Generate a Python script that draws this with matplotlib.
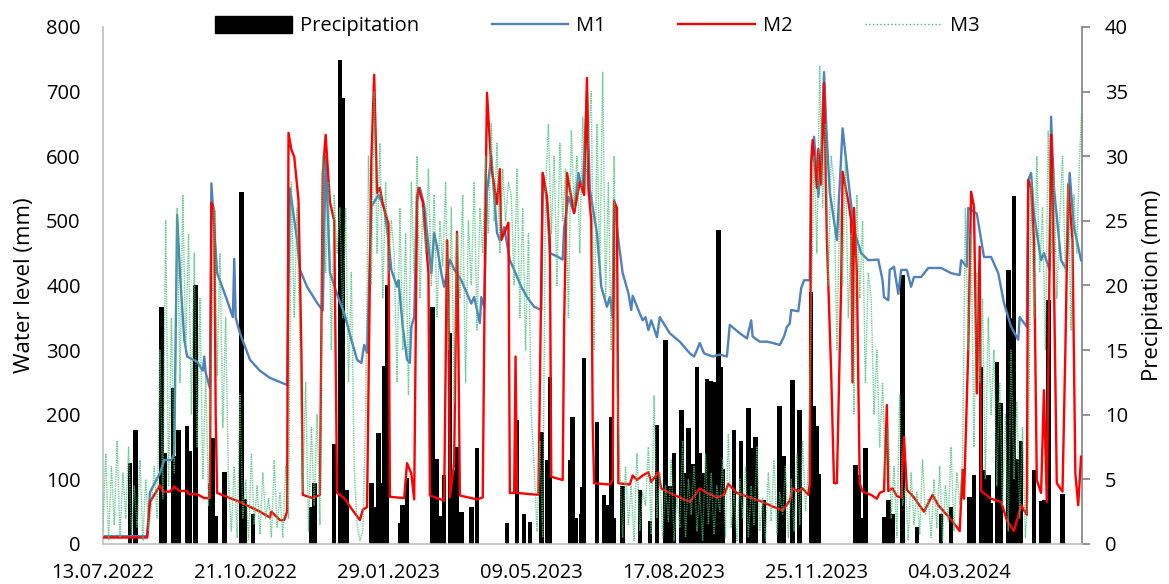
import numpy as np
import matplotlib
matplotlib.use('Agg')
import matplotlib.pyplot as plt
import matplotlib.dates as mdates
from matplotlib.patches import Patch
from matplotlib.lines import Line2D
from datetime import datetime, timedelta

plt.rcParams['font.family'] = ['Open Sans', 'DejaVu Sans']

START = datetime(2022, 7, 13)
N_DAYS = 686

# --- precipitation events: day offset from start, mm ---
precip_day = [19, 23, 41, 43, 49, 51, 53, 59, 61, 65, 75, 77, 79, 85, 97, 99, 105,
              146, 148, 162, 166, 168, 171, 188, 190, 193, 195, 197, 199, 208, 210, 213,
              231, 234, 237, 239, 243, 245, 248, 251, 258, 262, 283, 290, 295, 299,
              307, 311, 313, 327, 329, 331, 335, 336, 337, 346, 351, 353, 356, 358,
              364, 376, 383, 388, 394, 397, 400, 405, 407, 410, 413, 416, 418, 420,
              423, 426, 428, 431, 433, 434, 442, 447, 452, 455, 457, 463, 474, 477,
              483, 488, 496, 498, 500, 501, 527, 529, 532, 534, 547, 550, 553, 560,
              570, 587, 594, 607, 610, 615, 617, 620, 622, 626, 629, 634, 636, 638,
              640, 643, 652, 657, 659, 662, 672]
precip_mm = [6.3, 8.8, 18.3, 7.0, 12.1, 6.8, 8.8, 9.1, 7.2, 20.0, 4.7, 8.2, 2.2, 5.6, 27.2, 3.5, 2.3,
             2.9, 4.7, 7.7, 37.4, 34.5, 4.2, 4.7, 2.9, 8.6, 4.7, 13.8, 20.0, 1.6, 3.0, 5.1,
             18.3, 6.6, 2.2, 5.3, 16.3, 5.7, 7.5, 2.5, 2.9, 7.4, 1.6, 9.6, 2.3, 1.7,
             8.7, 6.5, 12.9, 6.5, 9.8, 2.0, 2.3, 4.4, 14.4, 9.4, 3.8, 3.0, 9.8, 2.0,
             4.5, 4.2, 1.8, 9.2, 15.8, 4.5, 7.0, 10.4, 5.5, 9.0, 6.2, 13.7, 7.0, 5.5,
             12.8, 12.6, 12.5, 24.3, 13.7, 5.8, 8.8, 8.0, 10.5, 7.4, 8.3, 3.4, 10.7, 6.8,
             12.7, 10.4, 19.5, 10.7, 9.1, 5.4, 6.1, 5.3, 2.0, 7.4, 2.1, 3.4, 2.3, 20.8,
             1.3, 2.3, 2.9, 3.6, 5.3, 13.7, 5.7, 5.3, 3.2, 14.1, 10.9, 21.2, 17.5, 26.9,
             6.6, 8.0, 5.7, 3.3, 3.4, 18.9, 3.9]

# --- M1 water level (mm) ---
m1_day = [0, 31, 33, 40, 43, 48, 50, 52, 54, 57, 59, 66, 70, 71, 72, 75, 76, 80, 87, 91,
          92, 93, 96, 103, 110, 117, 129, 131, 136, 138, 143, 150, 154, 156, 159, 165,
          169, 174, 178, 181, 183, 185, 188, 193, 197, 200, 202, 206, 207, 210, 213, 215,
          216, 218, 220, 222, 225, 230, 232, 234, 237, 239, 243, 246, 251, 256, 258, 260,
          264, 265, 267, 269, 272, 276, 278, 281, 285, 288, 293, 297, 302, 307, 308, 311,
          313, 318, 322, 323, 326, 330, 333, 336, 339, 341, 346, 349, 353, 355, 357, 358,
          361, 364, 368, 370, 371, 375, 378, 380, 382, 384, 388, 390, 397, 404, 411, 414,
          416, 418, 421, 427, 432, 437, 439, 446, 451, 454, 455, 460, 465, 469, 474, 477,
          479, 481, 482, 487, 489, 491, 495, 496, 498, 501, 503, 505, 507, 509, 514, 518,
          522, 526, 531, 536, 543, 546, 547, 550, 551, 554, 557, 559, 563, 566, 568, 573,
          578, 587, 594, 600, 601, 605, 606, 612, 617, 622, 627, 631, 636, 641, 642, 647,
          648, 650, 652, 657, 659, 663, 664, 666, 671, 675, 677, 680, 685]
m1_mm = [12, 12, 80, 110, 130, 130, 140, 509, 419, 316, 290, 282, 268, 290, 265, 241, 558, 419, 377, 351,
         441, 350, 326, 285, 268, 257, 246, 550, 470, 424, 398, 373, 361, 600, 420, 380,
         357, 316, 285, 280, 308, 296, 522, 540, 520, 470, 424, 398, 408, 336, 285, 280,
         336, 351, 530, 551, 524, 419, 481, 460, 419, 398, 440, 425, 408, 382, 372, 382,
         342, 382, 367, 545, 600, 481, 470, 490, 439, 424, 398, 382, 367, 362, 574, 530,
         450, 445, 440, 490, 537, 512, 574, 545, 700, 548, 481, 398, 367, 382, 351, 532,
         470, 419, 388, 362, 384, 362, 346, 351, 331, 346, 320, 351, 326, 313, 295, 290,
         300, 311, 295, 290, 293, 290, 339, 326, 318, 346, 321, 313, 313, 311, 308, 321,
         336, 341, 362, 360, 396, 408, 408, 590, 630, 537, 600, 730, 626, 545, 470, 643,
         563, 485, 450, 439, 440, 408, 382, 377, 424, 429, 387, 424, 424, 398, 413, 413,
         427, 427, 419, 416, 439, 429, 520, 511, 444, 444, 419, 373, 336, 316, 351, 336,
         563, 574, 510, 439, 450, 424, 661, 551, 439, 424, 574, 490, 439]

# --- M2 water level (mm) ---
m2_day = [0, 31, 33, 39, 40, 42, 47, 50, 52, 54, 59, 60, 66, 71, 75, 76, 78, 79, 80, 96,
          110, 117, 118, 124, 127, 129, 130, 132, 134, 137, 139, 140, 147, 152, 154, 156,
          159, 162, 164, 169, 174, 180, 182, 185, 188, 190, 192, 194, 196, 200, 201, 211,
          213, 216, 218, 220, 221, 224, 228, 229, 239, 241, 242, 243, 246, 248, 249, 250,
          262, 266, 268, 269, 272, 276, 278, 279, 284, 285, 288, 289, 290, 305, 308, 311,
          313, 314, 322, 323, 325, 330, 334, 337, 339, 340, 342, 343, 344, 355, 357, 358,
          360, 361, 369, 371, 374, 378, 382, 384, 389, 391, 397, 404, 411, 418, 423, 430,
          435, 438, 444, 453, 462, 469, 476, 481, 483, 487, 490, 494, 495, 496, 497, 500,
          501, 503, 505, 507, 510, 512, 514, 517, 518, 522, 524, 525, 526, 528, 530, 532,
          538, 542, 544, 547, 549, 550, 553, 556, 559, 561, 563, 568, 575, 581, 585, 589,
          595, 600, 602, 603, 606, 608, 610, 612, 614, 615, 622, 629, 633, 638, 643, 647,
          648, 650, 652, 654, 657, 659, 661, 664, 665, 668, 672, 674, 676, 679, 681, 683, 685]
m2_mm = [10, 10, 65, 87, 91, 81, 81, 89, 85, 82, 82, 77, 77, 71, 71, 528, 515, 200, 79, 65,
         50, 41, 50, 37, 37, 50, 636, 610, 599, 532, 300, 76, 71, 76, 574, 633,
         529, 500, 79, 71, 55, 37, 53, 57, 594, 726, 543, 551, 526, 495, 73, 71,
         125, 109, 69, 537, 551, 529, 419, 75, 67, 470, 380, 72, 125, 483, 300, 75,
         69, 72, 545, 698, 583, 526, 580, 470, 497, 79, 79, 290, 79, 76, 574, 537,
         470, 104, 99, 342, 574, 512, 560, 540, 721, 550, 500, 187, 94, 92, 99, 530,
         520, 94, 92, 106, 99, 106, 111, 96, 111, 86, 79, 72, 65, 86, 79, 72,
         76, 93, 79, 72, 65, 58, 52, 67, 86, 81, 86, 76, 93, 590, 625, 551,
         611, 556, 713, 470, 265, 94, 94, 400, 576, 530, 500, 250, 520, 419, 94, 81,
         76, 70, 79, 82, 215, 82, 86, 74, 72, 166, 84, 72, 50, 76, 60, 50,
         35, 20, 115, 70, 300, 545, 522, 233, 460, 82, 70, 65, 37, 20, 60, 45,
         563, 551, 470, 99, 79, 238, 65, 633, 574, 94, 81, 300, 556, 470, 109, 60, 135]

# --- M3 water level (mm), one reading every 2 days ---
m3_mm = [
    20, 140, 5, 120, 30, 160, 10, 110, 40, 150, 15, 90, 25, 130, 5, 100, 20,
    60, 120, 40, 300, 70, 500, 90, 350, 110,
    520, 250, 540, 300, 480, 200, 450, 150, 380, 100, 260, 60,
    300, 520, 260, 450, 180, 350, 90,
    20, 120, 10, 230, 40, 100, 5, 140, 30, 90, 15, 110, 40, 70, 10, 130, 25, 80, 10, 120, 40,
    560, 350, 520, 300,
    80, 250, 20, 180, 60, 200, 30,
    600, 420, 560, 300, 540, 450, 520, 350,
    520, 250, 420, 120, 30, 5, 20, 200,
    600, 400, 700, 450, 620, 380, 560, 420, 500,
    450, 250, 520, 300, 480, 230,
    560, 420, 600, 380, 520, 450, 580, 400, 540, 350, 500, 430, 560, 300, 520, 220,
    480, 380, 540, 250, 500, 400, 560, 330, 520, 450,
    600, 480, 650, 500, 620, 450, 580, 500, 560,
    540, 400, 580, 350, 520, 300, 480, 200,
    120, 20, 160, 10,
    550, 650, 480, 600, 400, 620, 500, 580, 350, 640, 520, 600, 450, 660, 550, 620,
    700, 300, 650, 420, 730, 380, 560, 300, 600,
    250, 120,
    10, 120, 30, 90, 5, 140, 20, 80, 60, 150, 15, 230, 40, 110, 10, 90, 35, 130, 5, 70,
    25, 160, 10, 100, 45, 120, 20, 80, 5, 140, 30, 110, 15, 90, 50, 130, 10, 170, 25, 80,
    5, 100, 40, 120, 10, 90, 30, 150, 20, 70, 5, 110, 35, 130, 15, 80, 45, 120, 10, 100,
    20, 140, 30, 160, 50, 120,
    350, 600, 450, 740, 520, 650, 400, 600,
    560, 300, 520, 400, 600, 350, 480, 200, 540, 380, 500, 250, 420,
    380, 200, 300, 150, 250, 100, 180,
    40, 120, 10, 230, 60, 90, 5, 110, 30, 80, 15, 130, 45, 70, 10, 100, 25, 120, 5, 90,
    35, 150, 20, 110, 60, 130,
    520, 300, 480, 150, 420, 250, 380, 100, 350, 200, 300, 90,
    250, 60, 200, 20, 300, 100, 220, 40, 180, 10, 80,
    560, 350, 600, 420, 520, 300, 640, 450, 580, 380, 500, 600, 420, 560, 330, 540, 450, 600, 700,
]

t0 = mdates.date2num(START)
def to_x(days):
    return t0 + np.asarray(days, dtype=float)

m3_day = np.arange(len(m3_mm)) * 2

fig = plt.figure(figsize=(11.69, 5.84), dpi=100)
ax = fig.add_axes([0.088, 0.0685, 0.838, 0.8855])
ax2 = ax.twinx()
# bars behind the lines
ax.set_zorder(ax2.get_zorder() + 1)
ax.patch.set_visible(False)

M3_COLOR = '#3cbf70'
ax2.bar(to_x(precip_day), precip_mm, width=3.2, color='black', zorder=1)
ax.plot(to_x(m1_day), m1_mm, color='#4f81bd', lw=1.7, zorder=2)
ax.plot(to_x(m2_day), m2_mm, color='#ff0000', lw=1.7, zorder=3)
ax.plot(to_x(m3_day), m3_mm, color=M3_COLOR, lw=1.0, ls=(0, (1.0, 0.7)),
        alpha=0.75, zorder=4)

ax.set_xlim(t0, t0 + N_DAYS)
ax.set_ylim(0, 800)
ax2.set_ylim(0, 40)
ax.set_yticks(range(0, 801, 100))
ax2.set_yticks(range(0, 41, 5))
ticks = [t0 + 100 * k for k in range(7)]
ax.set_xticks(ticks)
ax.set_xticklabels([(START + timedelta(days=100 * k)).strftime('%d.%m.%Y') for k in range(7)])

for a in (ax, ax2):
    a.spines['top'].set_visible(False)
ax.spines['right'].set_visible(False)
ax2.spines['left'].set_visible(False)
ax2.spines['bottom'].set_visible(False)
ax.spines['left'].set_color('#bfbfbf')
ax.spines['bottom'].set_color('#bfbfbf')
ax2.spines['right'].set_color('#808080')
ax.spines['left'].set_linewidth(1.2)
ax.spines['bottom'].set_linewidth(1.2)
ax2.spines['right'].set_linewidth(1.2)

ax.tick_params(axis='y', length=0, pad=16, labelsize=14.5)
ax.tick_params(axis='x', length=0, pad=14, labelsize=14.5)
ax2.tick_params(axis='y', length=6, width=1.2, color='#808080', pad=10, labelsize=14.5, direction='out')

ax.set_ylabel('Water level (mm)', fontsize=16, labelpad=8)
ax2.set_ylabel('Precipitation (mm)', fontsize=16, labelpad=10)

handles = [Patch(facecolor='black', edgecolor='black'),
           Line2D([], [], color='#4f81bd', lw=1.7),
           Line2D([], [], color='#ff0000', lw=1.7),
           Line2D([], [], color=M3_COLOR, lw=1.0, ls=':')]
fig.legend(handles, ['Precipitation', 'M1', 'M2', 'M3'], loc='center',
           bbox_to_anchor=(0.511, 0.955), ncol=4, frameon=False, fontsize=14.5,
           handlelength=3.8, handleheight=0.9, columnspacing=3.6, handletextpad=0.4)

fig.savefig('out.png', dpi=100)
